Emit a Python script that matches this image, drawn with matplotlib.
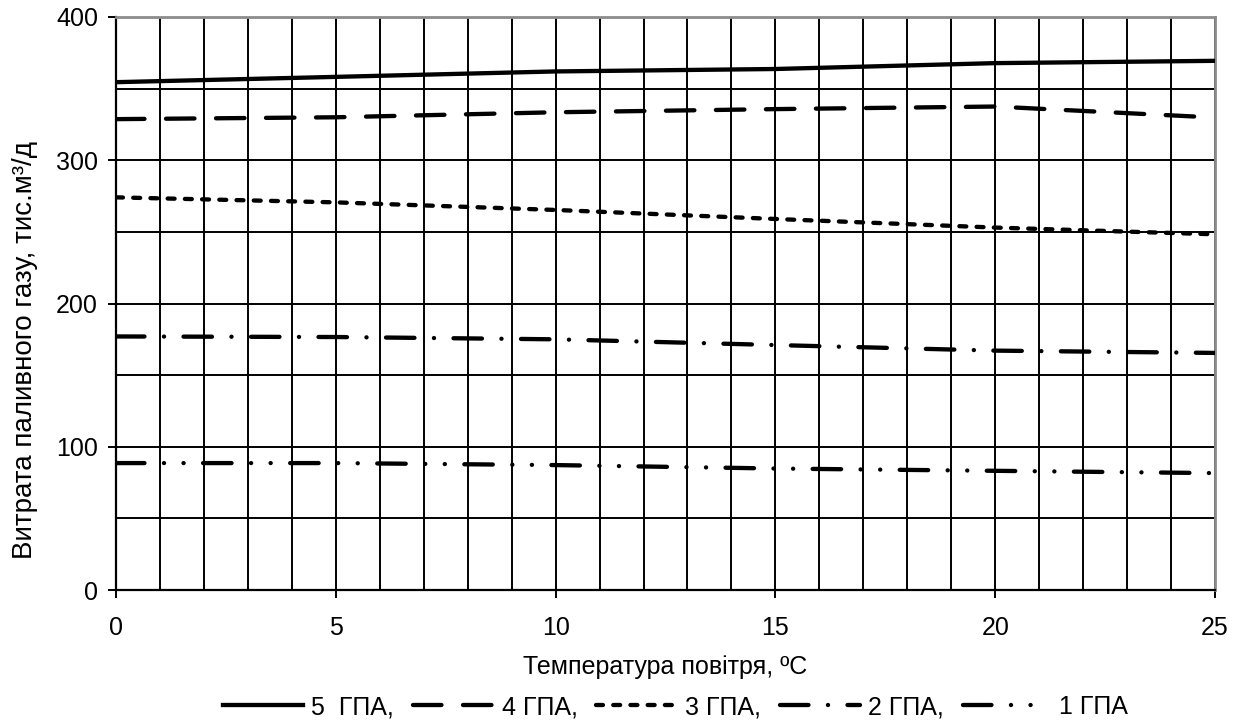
"""Fuel gas consumption vs air temperature for 1..5 running GPA units."""

import matplotlib

matplotlib.use("Agg")
import matplotlib.pyplot as plt

plt.rcParams["lines.scale_dashes"] = False

temperature = [0, 5, 10, 15, 20, 25]
gpa_5 = [354.5, 358.2, 362.0, 363.7, 367.8, 369.4]
gpa_4 = [328.7, 330.0, 333.5, 335.7, 337.5, 329.8]
gpa_3 = [274.1, 270.6, 265.3, 259.0, 253.0, 248.3]
gpa_2 = [177.0, 176.6, 175.0, 171.0, 167.1, 165.5]
gpa_1 = [88.6, 88.6, 87.2, 84.8, 83.2, 81.6]

series = [gpa_5, gpa_4, gpa_3, gpa_2, gpa_1]
labels = ["5  ГПА,", "4 ГПА,", "3 ГПА,", "2 ГПА,", " 1 ГПА"]

x_ticks = [0, 5, 10, 15, 20, 25]
y_ticks = [0, 100, 200, 300, 400]

x_label = "Температура повітря, ºC"
y_label = "Витрата паливного газу, тис.м³/д"

# dash patterns in points (round caps)
styles = [
    "-",
    (0, (20.5, 15.5)),
    (0, (5.0, 7.4)),
    (0, (20.5, 14.0, 0.1, 14.0)),
    (0, (20.5, 14.0, 0.1, 14.0, 0.1, 14.0)),
]

W, H = 1248, 724
fig = plt.figure(figsize=(W / 100, H / 100), dpi=100)
ax = fig.add_axes([116 / W, 1 - 590 / H, (1215 - 116) / W, (590 - 17) / H])

for values, label, ls in zip(series, labels, styles):
    ax.plot(temperature, values, color="black", lw=3.1, linestyle=ls,
            dash_capstyle="round", label=label, zorder=3)

ax.set_xlim(0, 25)
ax.set_ylim(0, 400)
ax.set_xticks(x_ticks)
ax.set_yticks(y_ticks)
ax.set_xticks(range(0, 26), minor=True)
ax.set_yticks(range(0, 401, 50), minor=True)
ax.set_axisbelow(True)
ax.grid(which="both", color="black", lw=1.4)
ax.tick_params(which="minor", length=0)
ax.tick_params(which="major", direction="out", length=6, width=1.4,
               labelsize=18, color="black")
ax.tick_params(axis="x", pad=13)
ax.tick_params(axis="y", pad=7)
for lab in ax.get_xticklabels() + ax.get_yticklabels():
    lab.set_fontfamily("Liberation Sans")

for side in ("left", "bottom"):
    ax.spines[side].set_color("black")
    ax.spines[side].set_linewidth(1.6)
for side in ("top", "right"):
    ax.spines[side].set_color("#8c8c8c")
    ax.spines[side].set_linewidth(2.0)

font = "Liberation Sans"
fig.text(665 / W, 1 - 667 / H, x_label, ha="center", va="center",
         fontsize=18, family=font)
fig.text(25 / W, 1 - 350 / H, y_label, ha="center", va="center",
         rotation=90, fontsize=20, family=font)

fig.legend(loc="center", bbox_to_anchor=(675 / W, 1 - 707 / H), ncol=5,
           frameon=False, handlelength=3.2, handletextpad=0.35,
           columnspacing=0.75, borderpad=0,
           prop={"family": font, "size": 18})

fig.savefig("out.png", dpi=100)
